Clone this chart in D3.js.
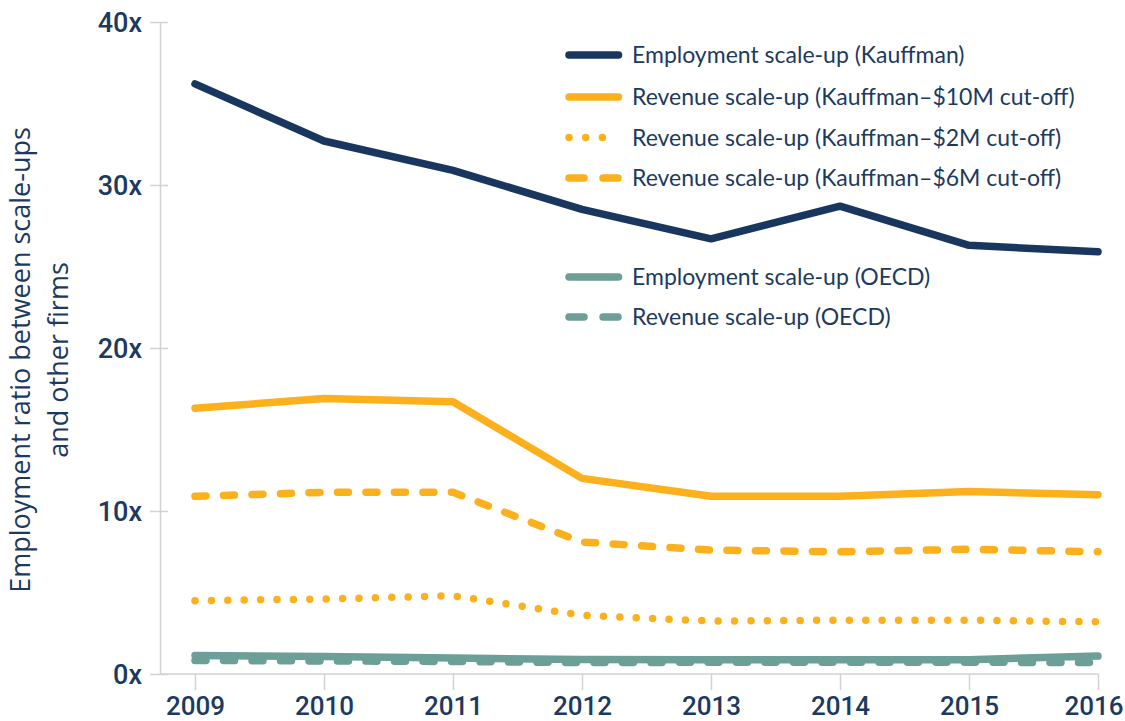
<!DOCTYPE html>
<html>
<head>
<meta charset="utf-8">
<script src="https://cdn.jsdelivr.net/npm/d3@7"></script>
<style>
  body { margin: 0; background: #fff; }
  svg { display: block; }
</style>
</head>
<body>
<div id="chart"></div>
<script>
// data
const years = [2009, 2010, 2011, 2012, 2013, 2014, 2015, 2016];
const empKauffman = [36.2, 32.7, 30.9, 28.5, 26.7, 28.7, 26.3, 25.9];
const rev10M = [16.3, 16.9, 16.7, 12.0, 10.9, 10.9, 11.2, 11.0];
const rev2M = [4.5, 4.6, 4.8, 3.6, 3.25, 3.3, 3.3, 3.2];
const rev6M = [10.9, 11.15, 11.15, 8.1, 7.6, 7.5, 7.65, 7.5];
const empOECD = [1.14, 1.07, 0.98, 0.89, 0.87, 0.88, 0.88, 1.1];
const revOECD = [0.83, 0.8, 0.77, 0.7, 0.72, 0.72, 0.72, 0.7];
const yTicks = [0, 10, 20, 30, 40];

const seriesNames = [
  "Employment scale-up (Kauffman)",
  "Revenue scale-up (Kauffman\u2013$10M cut-off)",
  "Revenue scale-up (Kauffman\u2013$2M cut-off)",
  "Revenue scale-up (Kauffman\u2013$6M cut-off)",
  "Employment scale-up (OECD)",
  "Revenue scale-up (OECD)",
];

const navy = "#18365e";
const textNavy = "#1c3a60";
const orange = "#fbb01c";
const teal = "#6c9f97";
const grey = "#d2d2d2";

// styles per series
const series = [
  { name: seriesNames[0], values: empKauffman, color: navy, dash: null },
  { name: seriesNames[1], values: rev10M, color: orange, dash: null },
  { name: seriesNames[2], values: rev2M, color: orange, dash: "0,16.4" },
  { name: seriesNames[3], values: rev6M, color: orange, dash: "11,17.5" },
  { name: seriesNames[5], values: revOECD, color: teal, dash: "11,17.5" },
  { name: seriesNames[4], values: empOECD, color: teal, dash: null },
];

const width = 1125;
const height = 721;

const svg = d3
  .select("#chart")
  .append("svg")
  .attr("width", width)
  .attr("height", height);

// scales
const x = d3.scalePoint().domain(years).range([195, 1098]);
const y = d3.scaleLinear().domain([0, 40]).range([674, 22]);

// y axis
const yAxis = svg
  .append("g")
  .attr("transform", "translate(160,0)")
  .call(
    d3
      .axisLeft(y)
      .tickValues(yTicks)
      .tickSizeOuter(0)
      .tickFormat((d) => d + "x")
  );
yAxis.select(".domain").attr("stroke", grey).attr("stroke-width", 1.5);
yAxis
  .selectAll(".tick line")
  .attr("x1", -10)
  .attr("x2", 8)
  .attr("stroke", grey)
  .attr("stroke-width", 1.5);
yAxis
  .selectAll(".tick text")
  .attr("x", -18)
  .attr("dy", "0.36em")
  .attr("fill", textNavy)
  .style("font-family", "Roboto, sans-serif")
  .style("font-weight", 500)
  .style("font-size", "27px");

// x axis
const xAxis = svg
  .append("g")
  .attr("transform", "translate(0,674)")
  .call(d3.axisBottom(x).tickSize(16).tickSizeOuter(0));
xAxis.select(".domain").remove();
xAxis
  .append("line")
  .attr("x1", 160)
  .attr("x2", x(2016))
  .attr("stroke", grey)
  .attr("stroke-width", 1.5);
xAxis.selectAll(".tick line").attr("stroke", grey).attr("stroke-width", 1.5);
xAxis
  .selectAll(".tick text")
  .attr("y", 41)
  .attr("dy", 0)
  .attr("fill", textNavy)
  .style("font-family", "Roboto, sans-serif")
  .style("font-weight", 500)
  .style("font-size", "26px");
// keep the last year label inside the page
xAxis
  .selectAll(".tick text")
  .filter((d) => d === years[years.length - 1])
  .attr("text-anchor", "end")
  .attr("x", width - 2 - x(years[years.length - 1]));

// y axis title
const yTitle = svg
  .append("text")
  .attr("transform", "translate(0,360) rotate(-90)")
  .attr("text-anchor", "middle")
  .attr("fill", textNavy)
  .style("font-family", "'Open Sans', sans-serif")
  .style("font-size", "27px");
yTitle.append("tspan").attr("x", 0).attr("y", 30).text("Employment ratio between scale-ups");
yTitle.append("tspan").attr("x", 0).attr("y", 68).text("and other firms");

// lines
const line = d3
  .line()
  .x((d, i) => x(years[i]))
  .y((d) => y(d));

svg
  .selectAll(".series")
  .data(series)
  .enter()
  .append("path")
  .attr("class", "series")
  .attr("d", (d) => line(d.values))
  .attr("fill", "none")
  .attr("stroke", (d) => d.color)
  .attr("stroke-width", 7.5)
  .attr("stroke-linecap", "round")
  .attr("stroke-linejoin", "round")
  .attr("stroke-dasharray", (d) => d.dash);

// legend
const legendRows = [
  { name: seriesNames[0], color: navy, dash: null, y: 55 },
  { name: seriesNames[1], color: orange, dash: null, y: 97 },
  { name: seriesNames[2], color: orange, dash: "0,16.7", y: 137.5 },
  { name: seriesNames[3], color: orange, dash: "15,19", y: 178 },
  { name: seriesNames[4], color: teal, dash: null, y: 277 },
  { name: seriesNames[5], color: teal, dash: "15,19", y: 317 },
];

const legend = svg
  .selectAll(".legend")
  .data(legendRows)
  .enter()
  .append("g")
  .attr("class", "legend")
  .attr("transform", (d) => "translate(0," + d.y + ")");

legend
  .append("line")
  .attr("x1", 569)
  .attr("x2", 618.5)
  .attr("stroke", (d) => d.color)
  .attr("stroke-width", 7.5)
  .attr("stroke-linecap", "round")
  .attr("stroke-dasharray", (d) => d.dash);

legend
  .append("text")
  .attr("x", 632)
  .attr("dy", "0.35em")
  .attr("fill", textNavy)
  .style("font-family", "Lato, sans-serif")
  .style("font-size", "23px")
  .text((d) => d.name);
</script>
</body>
</html>
